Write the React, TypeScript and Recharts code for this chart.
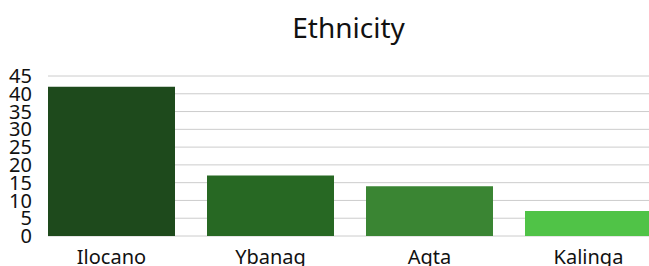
import React from "react";
import { BarChart, Bar, XAxis, YAxis, CartesianGrid, Cell } from "recharts";

const categories = ["Ilocano", "Ybanag", "Agta", "Kalinga"];
const values = [42, 17, 14, 7];
const colors = ["#1e4a1c", "#276823", "#3a8533", "#50c347"];
const yTicks = [0, 5, 10, 15, 20, 25, 30, 35, 40, 45];
const title = "Ethnicity";

const data = categories.map((name, i) => ({ name, value: values[i] }));
const FONT = "'Noto Sans', sans-serif";

export default function App() {
  return (
    <div
      style={{
        position: "absolute",
        left: 0,
        top: 0,
        width: 649,
        height: 266,
        overflow: "hidden",
        background: "#fff",
      }}
    >
      <svg
        width={649}
        height={60}
        style={{ position: "absolute", left: 0, top: 0 }}
      >
        <text
          x={348.5}
          y={38}
          textAnchor="middle"
          fontFamily={FONT}
          fontSize={28}
          fill="#111"
        >
          {title}
        </text>
      </svg>
      <div style={{ position: "absolute", left: 0, top: 0 }}>
        <BarChart
          width={700}
          height={266}
          data={data}
          margin={{ top: 76, right: 0, bottom: 0, left: 0 }}
          barSize={127}
        >
          <CartesianGrid
            vertical={false}
            stroke="#cccccc"
            strokeWidth={1}
          />
          <XAxis
            dataKey="name"
            height={30}
            axisLine={false}
            tickLine={false}
            tickSize={0}
            tickMargin={14}
            padding={{ left: -16, right: 32 }}
            interval={0}
            tick={{ fontFamily: FONT, fontSize: 20, fill: "#111" }}
          />
          <YAxis
            width={48}
            domain={[0, 45]}
            ticks={yTicks}
            interval={0}
            axisLine={false}
            tickLine={false}
            tickSize={0}
            tickMargin={16}
            tick={{ fontFamily: FONT, fontSize: 20, fill: "#111" }}
          />
          <Bar dataKey="value" isAnimationActive={false}>
            {data.map((d, i) => (
              <Cell key={d.name} fill={colors[i]} />
            ))}
          </Bar>
        </BarChart>
      </div>
    </div>
  );
}
